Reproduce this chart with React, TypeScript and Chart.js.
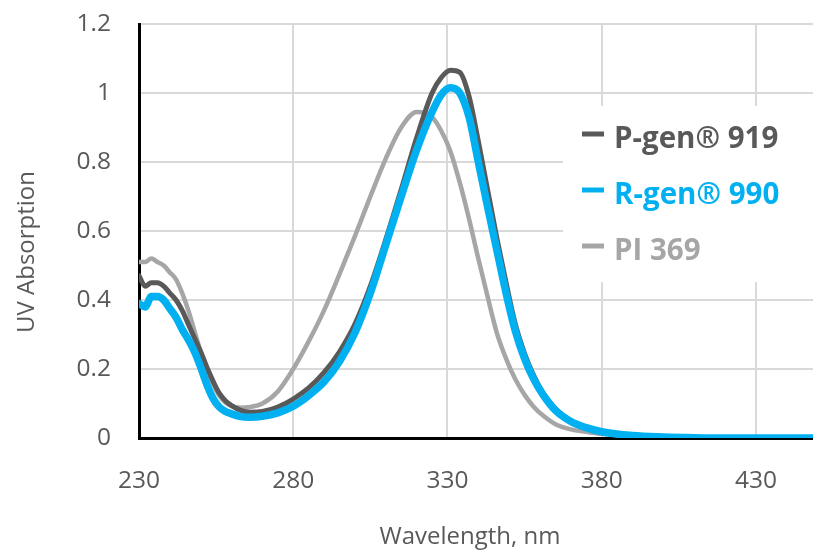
import React, { useEffect, useRef } from "react";
import { Chart, registerables } from "chart.js";

Chart.register(...registerables);

// Wavelength grid (nm)
const wavelengths = [
  230, 232, 234, 236, 238, 240, 242, 244, 246, 248, 250, 252, 254, 256, 258, 260,
  263, 266, 270, 275, 280, 285, 290, 295, 300, 305, 310, 315, 320, 325, 328, 331,
  334, 337, 340, 343, 346, 349, 352, 355, 358, 361, 365, 370, 375, 380, 390, 400,
  410, 420, 430, 440, 450,
];

const pgen919 = [
  0.47, 0.44, 0.45, 0.45, 0.44, 0.42, 0.40, 0.37, 0.33, 0.29, 0.25, 0.205, 0.165, 0.13, 0.108, 0.094,
  0.08, 0.075, 0.077, 0.09, 0.113, 0.145, 0.19, 0.25, 0.33, 0.44, 0.575, 0.72, 0.87, 1.0, 1.045, 1.066,
  1.06, 0.99, 0.86, 0.72, 0.58, 0.45, 0.33, 0.245, 0.18, 0.13, 0.085, 0.05, 0.03, 0.018, 0.007, 0.003,
  0.001, 0, 0, 0, 0,
];

const rgen990 = [
  0.39, 0.38, 0.41, 0.41, 0.40, 0.375, 0.35, 0.315, 0.285, 0.25, 0.205, 0.155, 0.115, 0.09, 0.077, 0.07,
  0.062, 0.06, 0.063, 0.073, 0.092, 0.123, 0.163, 0.222, 0.305, 0.42, 0.56, 0.70, 0.835, 0.945, 0.995, 1.015,
  1.0, 0.93, 0.80, 0.67, 0.545, 0.42, 0.31, 0.23, 0.17, 0.125, 0.08, 0.048, 0.03, 0.018, 0.007, 0.003,
  0.001, 0, 0, 0, 0,
];

const pi369 = [
  0.51, 0.51, 0.52, 0.51, 0.50, 0.48, 0.46, 0.42, 0.37, 0.31, 0.25, 0.195, 0.155, 0.123, 0.103, 0.093,
  0.088, 0.09, 0.10, 0.135, 0.20, 0.28, 0.37, 0.475, 0.585, 0.70, 0.81, 0.90, 0.945, 0.93, 0.89, 0.83,
  0.74, 0.635, 0.52, 0.41, 0.305, 0.23, 0.17, 0.125, 0.09, 0.065, 0.04, 0.025, 0.018, 0.012, 0.006, 0.003,
  0.001, 0, 0, 0, 0,
];

const xTickValues = [230, 280, 330, 380, 430];
const seriesNames = ["P-gen® 919", "R-gen® 990", "PI 369"];
const xTitle = "Wavelength, nm";
const yTitle = "UV Absorption";

const COLORS = ["#595959", "#00b0f0", "#a6a6a6"];
const TEXT = "#595959";
const FONT = "'Open Sans', 'DejaVu Sans', sans-serif";

const toPoints = (ys: number[]) => wavelengths.map((x, i) => ({ x, y: ys[i] }));

const overlayPlugin = {
  id: "overlay",
  afterDatasetsDraw(chart: any) {
    const ctx = chart.ctx as CanvasRenderingContext2D;
    ctx.save();
    // legend box
    ctx.fillStyle = "#ffffff";
    ctx.fillRect(563, 106, 250, 176);
    const rows = [148, 204, 260];
    seriesNames.forEach((name, i) => {
      const base = rows[i];
      ctx.strokeStyle = COLORS[i];
      ctx.lineWidth = 5;
      ctx.beginPath();
      ctx.moveTo(582, base - 14);
      ctx.lineTo(604, base - 14);
      ctx.stroke();
      ctx.fillStyle = COLORS[i];
      ctx.font = `bold 29.5px ${FONT}`;
      ctx.textAlign = "left";
      ctx.textBaseline = "alphabetic";
      ctx.fillText(name, 614, base);
    });
    // axis titles
    ctx.fillStyle = TEXT;
    ctx.font = `24px ${FONT}`;
    ctx.textAlign = "center";
    ctx.textBaseline = "middle";
    ctx.fillText(xTitle, 470, 537);
    ctx.translate(27, 252);
    ctx.rotate(-Math.PI / 2);
    ctx.fillText(yTitle, 0, 0);
    ctx.restore();
  },
};

export default function App() {
  const ref = useRef<HTMLCanvasElement | null>(null);

  useEffect(() => {
    if (!ref.current) return;
    const chart = new Chart(ref.current, {
      type: "line",
      data: {
        datasets: [
          {
            label: seriesNames[1],
            data: toPoints(rgen990),
            borderColor: COLORS[1],
            borderWidth: 7.5,
            order: 0,
          },
          {
            label: seriesNames[0],
            data: toPoints(pgen919),
            borderColor: COLORS[0],
            borderWidth: 5,
            order: 1,
          },
          {
            label: seriesNames[2],
            data: toPoints(pi369),
            borderColor: COLORS[2],
            borderWidth: 4.5,
            order: 2,
          },
        ] as any,
      },
      options: {
        animation: false,
        responsive: false,
        maintainAspectRatio: false,
        layout: { padding: { top: 24, right: 0, left: 0, bottom: 0 } },
        elements: {
          point: { radius: 0 },
          line: { cubicInterpolationMode: "monotone", borderCapStyle: "round", borderJoinStyle: "round" },
        },
        plugins: { legend: { display: false }, tooltip: { enabled: false } },
        scales: {
          x: {
            type: "linear",
            min: 230,
            max: 448.5,
            afterBuildTicks: (scale: any) => {
              scale.ticks = xTickValues.map((v) => ({ value: v }));
            },
            afterFit: (scale: any) => {
              scale.height = 114;
              scale.paddingLeft = 0;
              scale.paddingRight = 0;
            },
            grid: { color: "#d9d9d9", lineWidth: 2, drawTicks: false },
            border: { color: "#000000", width: 3 },
            ticks: {
              color: TEXT,
              font: { family: FONT, size: 24.5 },
              padding: 28,
              maxRotation: 0,
              autoSkip: false,
            },
          },
          y: {
            min: 0,
            max: 1.2,
            afterFit: (scale: any) => {
              scale.width = 139;
              scale.paddingTop = 0;
              scale.paddingBottom = 0;
            },
            grid: { color: "#d9d9d9", lineWidth: 2, drawTicks: false },
            border: { color: "#000000", width: 3 },
            ticks: {
              stepSize: 0.2,
              color: TEXT,
              font: { family: FONT, size: 24.5 },
              padding: 28,
              callback: (v: any) => String(Number(Number(v).toFixed(1))),
            },
          },
        },
      },
      plugins: [overlayPlugin],
    });
    return () => chart.destroy();
  }, []);

  return (
    <div style={{ position: "absolute", left: 0, top: 0, width: 813, height: 552, background: "#fff" }}>
      <canvas ref={ref} width={813} height={552} style={{ width: 813, height: 552 }} />
    </div>
  );
}
